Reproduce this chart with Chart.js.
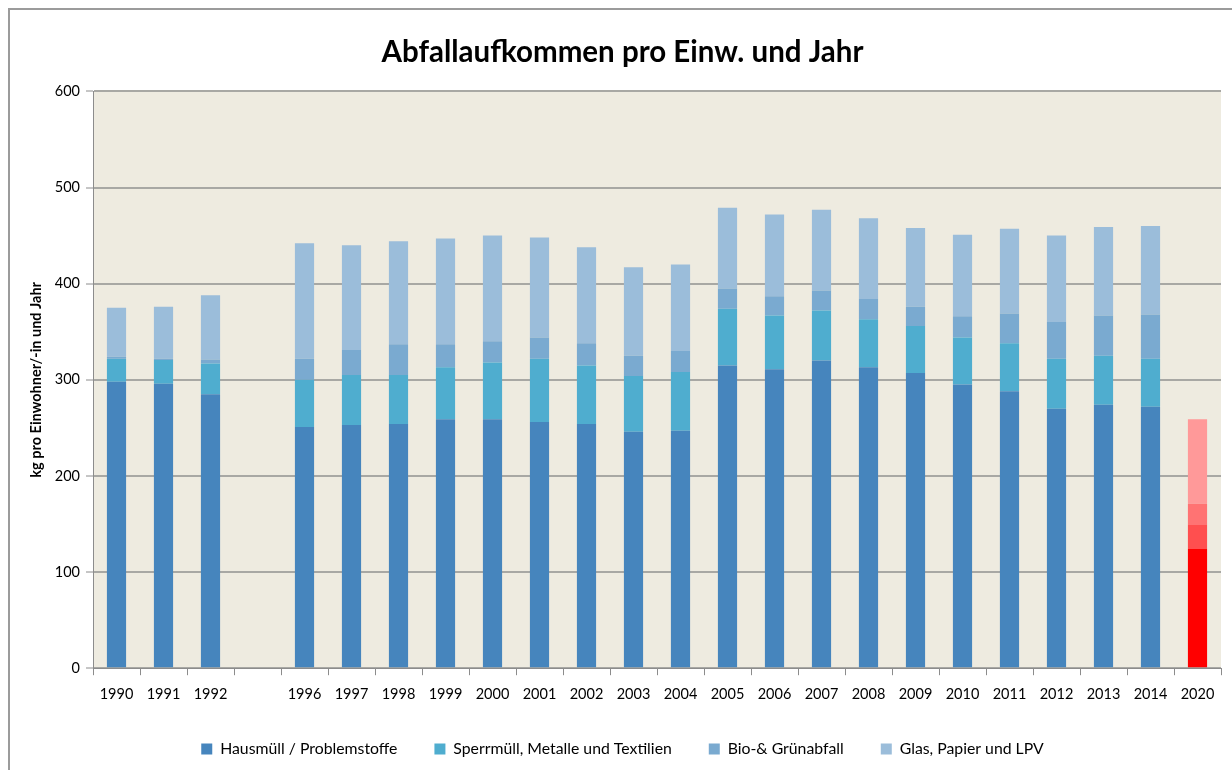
<!DOCTYPE html>
<html>
<head>
<meta charset="utf-8">
<script src="https://cdn.jsdelivr.net/npm/chart.js@4/dist/chart.umd.min.js"></script>
<style>
  html, body { margin: 0; padding: 0; background: #ffffff; overflow: hidden; }
  #wrap { position: relative; width: 1232px; height: 770px; }
  #frame { position: absolute; left: 8px; top: 8px; width: 1300px; height: 800px;
           border-left: 2px solid #9b9b9b; border-top: 2px solid #9b9b9b; box-sizing: border-box; }
  canvas { position: absolute; left: 0; top: 0; }
</style>
</head>
<body>
<div id="wrap">
  <div id="frame"></div>
  <canvas id="c" width="1232" height="770"></canvas>
</div>
<script>
const categories = ['1990','1991','1992','','1996','1997','1998','1999','2000','2001','2002','2003','2004','2005','2006','2007','2008','2009','2010','2011','2012','2013','2014','2020'];
const hausmuell = [298,296,285,null,251,253,254,259,259,256,254,246,247,315,311,320,313,307,295,288,270,274,272,124];
const sperrmuell = [24,24.5,32,null,49,52,51,54,59,66,61,58,61,59,56,52,50,49,49,50,52,51,50,25];
const bioGruen = [2,1.5,4,null,22,26,32,24,22,22,23,21,22,21,20,21,21,20,22,31,38,42,46,22];
const glasPapier = [51,54,67,null,120,109,107,110,110,104,100,92,90,84,85,84,84,82,85,88,90,92,92,88];
const seriesNames = ['Hausmüll / Problemstoffe','Sperrmüll, Metalle und Textilien','Bio-& Grünabfall','Glas, Papier und LPV'];
const yTicks = [0,100,200,300,400,500,600];

const blueColors = ['#4685BD','#4FADCF','#7AAAD0','#9BBDDA'];
const redColors = ['#FF0000','#FF4F4F','#FF7373','#FF9999'];
const highlightLabel = '2020';

const fontFamily = 'Lato, "Liberation Sans", sans-serif';

function colorFor(i) {
  return (ctx) => categories[ctx.dataIndex] === highlightLabel ? redColors[i] : blueColors[i];
}

const bgPlugin = {
  id: 'bg',
  beforeDraw(chart) {
    const {ctx, chartArea: a} = chart;
    ctx.save();
    ctx.fillStyle = '#EEEBE0';
    ctx.fillRect(a.left, a.top, a.right - a.left, a.bottom - a.top);
    ctx.restore();
  }
};

const seriesData = [hausmuell, sperrmuell, bioGruen, glasPapier];

new Chart(document.getElementById('c'), {
  type: 'bar',
  data: {
    labels: categories,
    datasets: seriesData.map((d, i) => ({
      label: seriesNames[i],
      data: d,
      backgroundColor: colorFor(i),
      borderWidth: 0,
      barPercentage: 0.8,
      categoryPercentage: 0.51
    }))
  },
  options: {
    responsive: false,
    animation: false,
    devicePixelRatio: 1,
    layout: { padding: { left: 24, right: 11, top: 0, bottom: 3 } },
    plugins: {
      title: {
        display: true,
        text: 'Abfallaufkommen pro Einw. und Jahr',
        color: '#000',
        font: { family: fontFamily, size: 29.5, weight: 'bold' },
        padding: { top: 35, bottom: 21 }
      },
      legend: {
        position: 'bottom',
        labels: {
          color: '#000',
          font: { family: fontFamily, size: 15.8 },
          boxWidth: 11,
          boxHeight: 11,
          padding: 37,
          generateLabels: (chart) => seriesNames.map((n, i) => ({
            text: n, fillStyle: blueColors[i], strokeStyle: blueColors[i], lineWidth: 0, datasetIndex: i, hidden: false
          }))
        }
      },
      tooltip: { enabled: false }
    },
    scales: {
      x: {
        stacked: true,
        afterFit: (s) => { s.height = 36; },
        border: { display: true, color: '#8c8c8c', width: 1 },
        grid: { display: true, drawOnChartArea: false, drawTicks: true, tickLength: 7, color: '#8c8c8c', offset: true },
        ticks: { color: '#000', font: { family: fontFamily, size: 14.5 }, padding: 10, maxRotation: 0, autoSkip: false }
      },
      y: {
        stacked: true,
        min: 0,
        max: 600,
        afterFit: (s) => { s.width = 69; },
        afterBuildTicks: (s) => { s.ticks = yTicks.map(v => ({ value: v })); },
        border: { display: true, color: '#8c8c8c', width: 1 },
        grid: { color: '#A8A8A4', lineWidth: 2, tickColor: '#8c8c8c', tickWidth: 1, tickLength: 7 },
        ticks: { color: '#000', font: { family: fontFamily, size: 14.5 }, padding: 6 },
        title: {
          display: true,
          text: 'kg pro Einwohner/-in und Jahr',
          color: '#000',
          font: { family: fontFamily, size: 14.5, weight: 'bold' },
          padding: { top: 4, bottom: 4 }
        }
      }
    }
  },
  plugins: [bgPlugin]
});
</script>
</body>
</html>
